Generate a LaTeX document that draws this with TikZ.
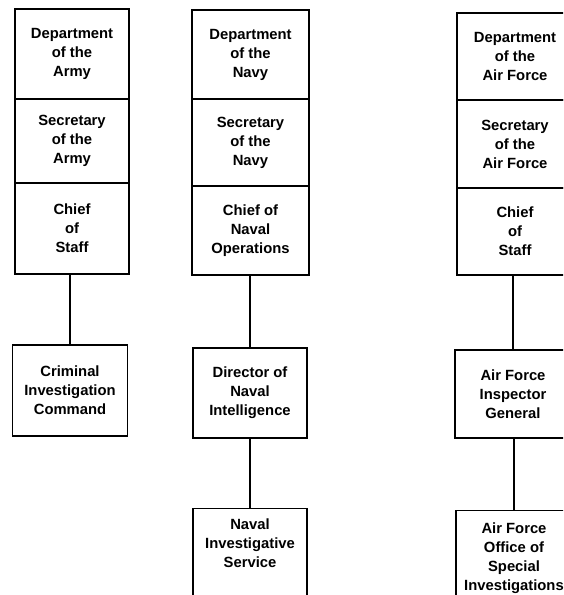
\documentclass[tikz,border=0pt]{standalone}
\usepackage{fontspec}
\setmainfont{Liberation Sans}
\begin{document}
\begin{tikzpicture}[x=1pt, y=-1pt,
  box/.style={draw, line width=1.3pt, align=center, inner sep=0pt,
    font=\bfseries\fontsize{14.8}{19}\selectfont},
  openbox/.style={box, anchor=north, text depth=80pt},
  link/.style={line width=1.8pt}]
\useasboundingbox (0,0) rectangle (563,595);
\clip (0,0) rectangle (563,595);

% Army
\node[box, minimum width=114pt, minimum height=90pt] (armyDept) at (72,54) {Department\\of the\\Army};
\node[box, minimum width=114pt, minimum height=84pt] (armySec) at (72,141) {Secretary\\of the\\Army};
\node[box, minimum width=114pt, minimum height=91pt] (armyCoS) at (72,228.5) {Chief\\of\\Staff};
\node[box, minimum width=115pt, minimum height=91pt] (armyCID) at (70,390.5) {Criminal\\Investigation\\Command};

% Navy
\node[box, minimum width=117pt, minimum height=89pt] (navyDept) at (250.5,54.5) {Department\\of the\\Navy};
\node[box, minimum width=117pt, minimum height=87pt] (navySec) at (250.5,142.5) {Secretary\\of the\\Navy};
\node[box, minimum width=117pt, minimum height=89pt] (navyCNO) at (250.5,230.5) {Chief of\\Naval\\Operations};
\node[box, minimum width=114pt, minimum height=90pt] (navyDNI) at (250,393) {Director of\\Naval\\Intelligence};
\node[openbox, minimum width=114pt, inner ysep=10pt] (navyNIS) at (250,508) {Naval\\Investigative\\Service};

% Air Force
\node[box, minimum width=116pt, minimum height=87pt] (afDept) at (515,56.5) {Department\\of the\\Air Force};
\node[box, minimum width=116pt, minimum height=88pt] (afSec) at (515,144) {Secretary\\of the\\Air Force};
\node[box, minimum width=116pt, minimum height=87pt] (afCoS) at (515,231.5) {Chief\\of\\Staff};
\node[box, minimum width=116pt, minimum height=88pt] (afIG) at (513,394) {Air Force\\Inspector\\General};
\node[openbox, minimum width=116pt, inner ysep=12pt] (afOSI) at (514,510) {Air Force\\Office of\\Special\\Investigations};

% connectors
\draw[link] (armyCID.north) -- (armyCID.north |- armyCoS.south);
\draw[link] (navyDNI.north) -- (navyDNI.north |- navyCNO.south);
\draw[link] (navyNIS.north) -- (navyDNI.south);
\draw[link] (afIG.north) -- (afIG.north |- afCoS.south);
\draw[link] (afOSI.north) -- (afOSI.north |- afIG.south);
\end{tikzpicture}
\end{document}
